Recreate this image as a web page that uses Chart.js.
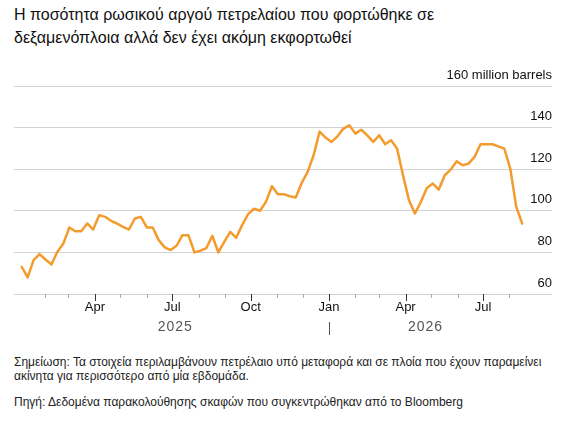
<!DOCTYPE html>
<html>
<head>
<meta charset="utf-8">
<script src="https://cdn.jsdelivr.net/npm/chart.js@4.4.1/dist/chart.umd.min.js"></script>
<style>
  html, body { margin: 0; padding: 0; background: #fff; }
  body { width: 572px; height: 421px; position: relative; overflow: hidden;
         font-family: "Liberation Sans", Arial, sans-serif; }
  #title { position: absolute; left: 14px; top: 3px; font-size: 16px; line-height: 23px; color: #111; }
  #chart { position: absolute; left: 0; top: 0; }
  #notes { position: absolute; left: 14px; top: 355px; font-size: 12px; line-height: 14px; color: #222; }
  #notes p { margin: 0 0 12px 0; }
</style>
</head>
<body>
<div id="title">Η ποσότητα ρωσικού αργού πετρελαίου που φορτώθηκε σε<br>δεξαμενόπλοια αλλά δεν έχει ακόμη εκφορτωθεί</div>
<canvas id="chart" width="572" height="345"></canvas>
<div id="notes">
  <p>Σημείωση: Τα στοιχεία περιλαμβάνουν πετρέλαιο υπό μεταφορά και σε πλοία που έχουν παραμείνει<br>ακίνητα για περισσότερο από μία εβδομάδα.</p>
  <p>Πηγή: Δεδομένα παρακολούθησης σκαφών που συγκεντρώθηκαν από το Bloomberg</p>
</div>
<script>
// ---- Data ----
// Weekly readings, million barrels, starting 5 Jan 2025
const firstWeek = "2025-01-05";
const barrels = [
  73.1, 68.0, 76.3, 79.2, 76.6, 74.2, 80.3, 84.3, 92.0, 90.2,
  90.2, 93.9, 91.0, 97.9, 97.1, 95.2, 93.9, 92.3, 91.0, 96.3,
  97.1, 92.0, 92.0, 85.9, 82.4, 81.1, 83.2, 88.3, 88.2, 80.0,
  80.8, 82.1, 88.0, 80.0, 85.1, 89.9, 87.0, 93.1, 98.4, 101.0,
  100.0, 104.3, 111.8, 108.0, 108.0, 107.0, 106.4, 113.4, 118.7, 126.7,
  138.1, 135.2, 133.1, 135.8, 139.5, 141.1, 137.1, 139.0, 136.3, 133.1,
  136.3, 132.0, 133.9, 129.9, 117.1, 105.1, 98.7, 104.3, 111.0, 113.1,
  110.2, 117.1, 119.8, 123.8, 121.9, 122.7, 125.9, 132.0, 132.0, 132.0,
  131.0, 129.9, 120.3, 101.9, 93.9
];
const monthStarts = ["2025-02-01","2025-03-01","2025-04-01","2025-05-01","2025-06-01","2025-07-01",
  "2025-08-01","2025-09-01","2025-10-01","2025-11-01","2025-12-01","2026-01-01","2026-02-01",
  "2026-03-01","2026-04-01","2026-05-01","2026-06-01","2026-07-01","2026-08-01"];
const monthLabels = ["","","Apr","","","Jul","","","Oct","","","Jan","","","Apr","","","Jul",""];
const yearLabels = ["2025", "2026"];
const yearBoundary = "2026-01-01";
const yTicks = [60, 80, 100, 120, 140, 160];
const yUnit = "million barrels";
const axisStart = "2024-12-27";
const axisEnd = "2026-09-20";

// ---- helpers ----
const DAY = 86400000;
const origin = Date.UTC(2025, 0, 1);
function dayOf(s) { const [y, m, d] = s.split("-").map(Number); return (Date.UTC(y, m - 1, d) - origin) / DAY; }
const firstDay = dayOf(firstWeek);
const points = barrels.map((v, i) => ({ x: firstDay + 7 * i, y: v }));
const monthDays = monthStarts.map(dayOf);
const boundaryDay = dayOf(yearBoundary);

const FONT = '"Liberation Sans", Arial, sans-serif';
Chart.defaults.font.family = FONT;

const decor = {
  id: 'decor',
  afterDraw(chart) {
    const ctx = chart.ctx;
    const xs = chart.scales.x;
    const base = chart.chartArea.bottom;
    ctx.save();
    monthDays.forEach((d, i) => {
      const px = Math.round(xs.getPixelForValue(d)) + 0.5;
      const major = monthLabels[i] !== "";
      ctx.strokeStyle = major ? '#333' : '#aaa';
      ctx.lineWidth = 1;
      ctx.beginPath();
      ctx.moveTo(px, base);
      ctx.lineTo(px, base + (major ? 7 : 4));
      ctx.stroke();
    });
    // year separator
    const bx = Math.round(xs.getPixelForValue(boundaryDay)) + 0.5;
    ctx.strokeStyle = '#555';
    ctx.beginPath();
    ctx.moveTo(bx, base + 28);
    ctx.lineTo(bx, base + 41);
    ctx.stroke();
    // year labels
    ctx.fillStyle = '#555';
    ctx.font = '14px ' + FONT;
    try { ctx.letterSpacing = '1px'; } catch (e) {}
    ctx.textAlign = 'center';
    ctx.textBaseline = 'alphabetic';
    const lastDay = points[points.length - 1].x;
    const c1 = xs.getPixelForValue((firstDay + boundaryDay) / 2);
    const c2 = xs.getPixelForValue((boundaryDay + lastDay) / 2);
    ctx.fillText(yearLabels[0], c1, base + 37);
    ctx.fillText(yearLabels[1], c2, base + 37);
    ctx.restore();
  }
};

new Chart(document.getElementById('chart'), {
  type: 'line',
  data: {
    datasets: [{
      data: points,
      borderColor: '#f39b2d',
      borderWidth: 2.5,
      pointRadius: 0,
      tension: 0,
      borderJoinStyle: 'round',
      borderCapStyle: 'round'
    }]
  },
  options: {
    responsive: false,
    animation: false,
    events: [],
    layout: { padding: { top: 86, left: 14, right: 20, bottom: 0 } },
    plugins: { legend: { display: false }, tooltip: { enabled: false } },
    scales: {
      x: {
        type: 'linear',
        min: dayOf(axisStart),
        max: dayOf(axisEnd),
        grid: { display: false },
        border: { display: false },
        afterBuildTicks: (s) => { s.ticks = monthDays.map(v => ({ value: v })); },
        afterFit: (s) => { s.height = 51; },
        ticks: {
          autoSkip: false, maxRotation: 0, padding: -2,
          color: '#111', font: { size: 13 },
          callback: (v, i) => monthLabels[i]
        }
      },
      y: {
        position: 'right',
        min: yTicks[0],
        max: yTicks[yTicks.length - 1],
        afterBuildTicks: (s) => { s.ticks = yTicks.map(v => ({ value: v })); },
        afterFit: (s) => { s.width = 0; },
        grid: { color: '#d3d3d3', lineWidth: 1, drawTicks: false },
        border: { display: false },
        ticks: {
          mirror: true, padding: 0, labelOffset: -11,
          color: '#111', font: { size: 13 },
          callback: (v) => v === yTicks[yTicks.length - 1] ? v + ' ' + yUnit : String(v)
        }
      }
    }
  },
  plugins: [decor]
});
</script>
</body>
</html>
